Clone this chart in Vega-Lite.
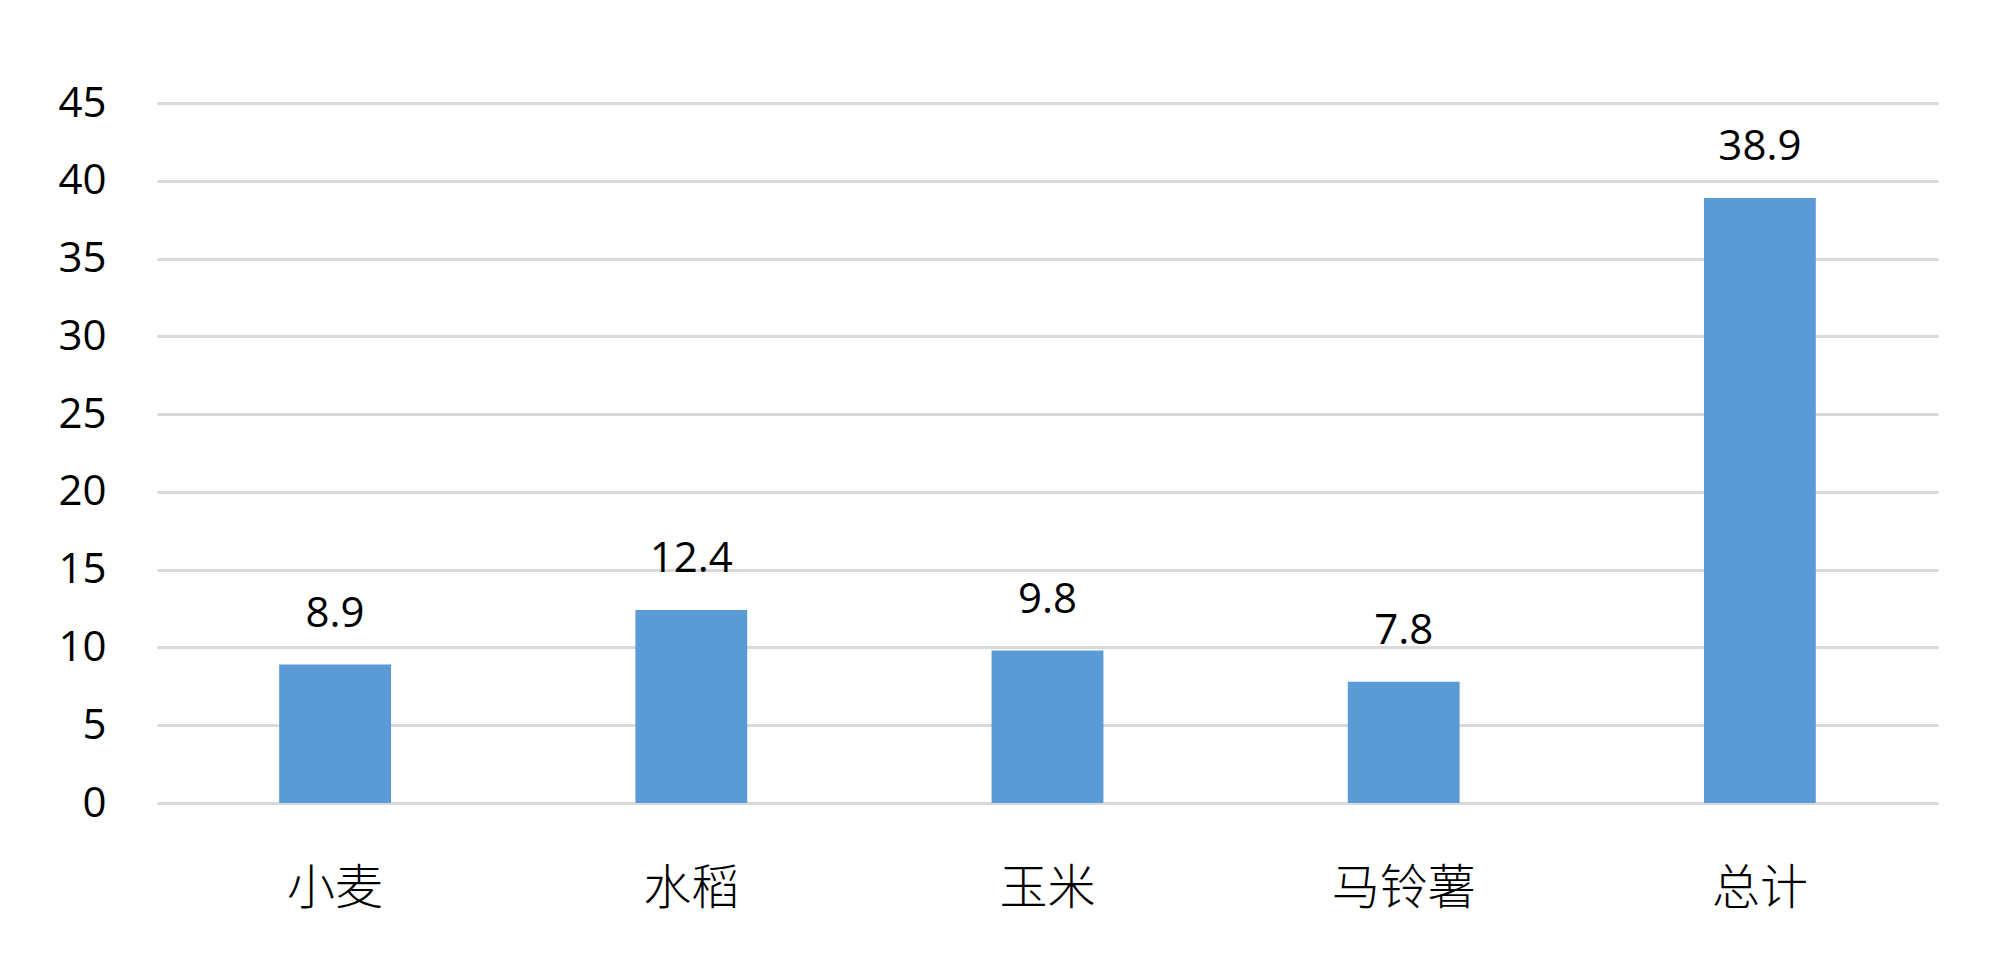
{
  "$schema": "https://vega.github.io/schema/vega-lite/v6.json",
  "width": 1781,
  "height": 700,
  "autosize": {"type": "none"},
  "padding": {"left": 157, "top": 103, "right": 62, "bottom": 156},
  "background": "white",
  "data": {"values": [
    {"crop": "小麦", "value": 8.9},
    {"crop": "水稻", "value": 12.4},
    {"crop": "玉米", "value": 9.8},
    {"crop": "马铃薯", "value": 7.8},
    {"crop": "总计", "value": 38.9}
  ]},
  "encoding": {
    "x": {"field": "crop", "type": "nominal", "sort": null,
      "scale": {"paddingInner": 0.686, "paddingOuter": 0.343},
      "axis": {"title": null, "labelAngle": 0, "labelFont": "Noto Sans CJK SC", "labelFontSize": 48, "labelFontWeight": 300, "labelColor": "#000000",
        "labelPadding": 86, "labelBaseline": "middle", "ticks": false, "domain": false, "grid": false}},
    "y": {"field": "value", "type": "quantitative",
      "scale": {"domain": [0, 45], "nice": false},
      "axis": {"title": null, "values": [0,5,10,15,20,25,30,35,40,45], "labelFont": "Open Sans", "labelFontSize": 42, "labelColor": "#000000",
        "labelPadding": 51, "ticks": false, "domain": false, "grid": true, "gridColor": "#d9d9d9", "gridWidth": 3}}
  },
  "layer": [
    {"mark": {"type": "bar", "color": "#5b9bd5"}},
    {"mark": {"type": "text", "font": "Open Sans", "fontSize": 42, "color": "#000000", "baseline": "alphabetic", "dy": -38},
     "encoding": {"text": {"field": "value", "type": "quantitative", "format": ".1f"}}}
  ],
  "config": {"view": {"stroke": null}}
}
